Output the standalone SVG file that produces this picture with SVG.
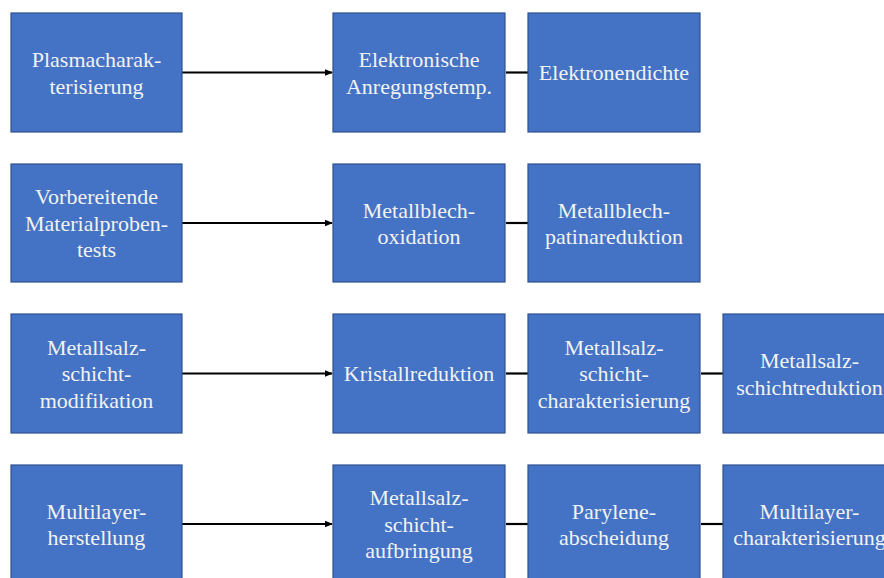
<svg xmlns="http://www.w3.org/2000/svg" width="884" height="578" viewBox="0 0 884 578">
<style>
.box{fill:#4472C4;stroke:#2F528F;stroke-width:1.2}
.t{font-family:'Liberation Serif','Times New Roman','DejaVu Serif',serif;font-size:22px;fill:#F2F2F2;text-anchor:middle}
.c{stroke:#000;stroke-width:2.2;fill:none}
</style>
<defs>
<marker id="ah" markerWidth="8" markerHeight="8" refX="7" refY="4" orient="auto" markerUnits="userSpaceOnUse">
<path d="M0,0.8 L8,4 L0,7.2 Z" fill="#000"/>
</marker>
</defs>
<rect width="884" height="578" fill="#fff"/>
<g id="connectors">
<line class="c" x1="182" y1="72.5" x2="332" y2="72.5" marker-end="url(#ah)"/>
<line class="c" x1="506" y1="72.5" x2="528" y2="72.5"/>
<line class="c" x1="182" y1="223" x2="332" y2="223" marker-end="url(#ah)"/>
<line class="c" x1="506" y1="223" x2="528" y2="223"/>
<line class="c" x1="182" y1="373.5" x2="332" y2="373.5" marker-end="url(#ah)"/>
<line class="c" x1="506" y1="373.5" x2="528" y2="373.5"/>
<line class="c" x1="701" y1="373.5" x2="723" y2="373.5"/>
<line class="c" x1="182" y1="524" x2="332" y2="524" marker-end="url(#ah)"/>
<line class="c" x1="506" y1="524" x2="528" y2="524"/>
<line class="c" x1="701" y1="524" x2="723" y2="524"/>
</g>
<g id="n1"><rect class="box" x="11" y="13" width="171" height="119"/>
<text class="t" x="96.5" y="67">Plasmacharak-</text><text class="t" x="96.5" y="93.5">terisierung</text></g>
<g id="n2"><rect class="box" x="333" y="13" width="172" height="119"/>
<text class="t" x="419" y="67">Elektronische</text><text class="t" x="419" y="93.5">Anregungstemp.</text></g>
<g id="n3"><rect class="box" x="528" y="13" width="172" height="119"/>
<text class="t" x="614" y="80">Elektronendichte</text></g>
<g id="n4"><rect class="box" x="11" y="164" width="171" height="118"/>
<text class="t" x="96.5" y="204">Vorbereitende</text><text class="t" x="96.5" y="230.5">Materialproben-</text><text class="t" x="96.5" y="257">tests</text></g>
<g id="n5"><rect class="box" x="333" y="164" width="172" height="118"/>
<text class="t" x="419" y="217.5">Metallblech-</text><text class="t" x="419" y="244">oxidation</text></g>
<g id="n6"><rect class="box" x="528" y="164" width="172" height="118"/>
<text class="t" x="614" y="217.5">Metallblech-</text><text class="t" x="614" y="244">patinareduktion</text></g>
<g id="n7"><rect class="box" x="11" y="314" width="171" height="119"/>
<text class="t" x="96.5" y="354.5">Metallsalz-</text><text class="t" x="96.5" y="381">schicht-</text><text class="t" x="96.5" y="407.5">modifikation</text></g>
<g id="n8"><rect class="box" x="333" y="314" width="172" height="119"/>
<text class="t" x="419" y="381">Kristallreduktion</text></g>
<g id="n9"><rect class="box" x="528" y="314" width="172" height="119"/>
<text class="t" x="614" y="354.5">Metallsalz-</text><text class="t" x="614" y="381">schicht-</text><text class="t" x="614" y="407.5">charakterisierung</text></g>
<g id="n10"><rect class="box" x="723" y="314" width="172" height="119"/>
<text class="t" x="809.5" y="368">Metallsalz-</text><text class="t" x="809.5" y="394.5">schichtreduktion</text></g>
<g id="n11"><rect class="box" x="11" y="465" width="171" height="119"/>
<text class="t" x="96.5" y="518.5">Multilayer-</text><text class="t" x="96.5" y="545">herstellung</text></g>
<g id="n12"><rect class="box" x="333" y="465" width="172" height="119"/>
<text class="t" x="419" y="505">Metallsalz-</text><text class="t" x="419" y="531.5">schicht-</text><text class="t" x="419" y="558">aufbringung</text></g>
<g id="n13"><rect class="box" x="528" y="465" width="172" height="119"/>
<text class="t" x="614" y="518.5">Parylene-</text><text class="t" x="614" y="545">abscheidung</text></g>
<g id="n14"><rect class="box" x="723" y="465" width="172" height="119"/>
<text class="t" x="809.5" y="518.5">Multilayer-</text><text class="t" x="809.5" y="545">charakterisierung</text></g>
</svg>
